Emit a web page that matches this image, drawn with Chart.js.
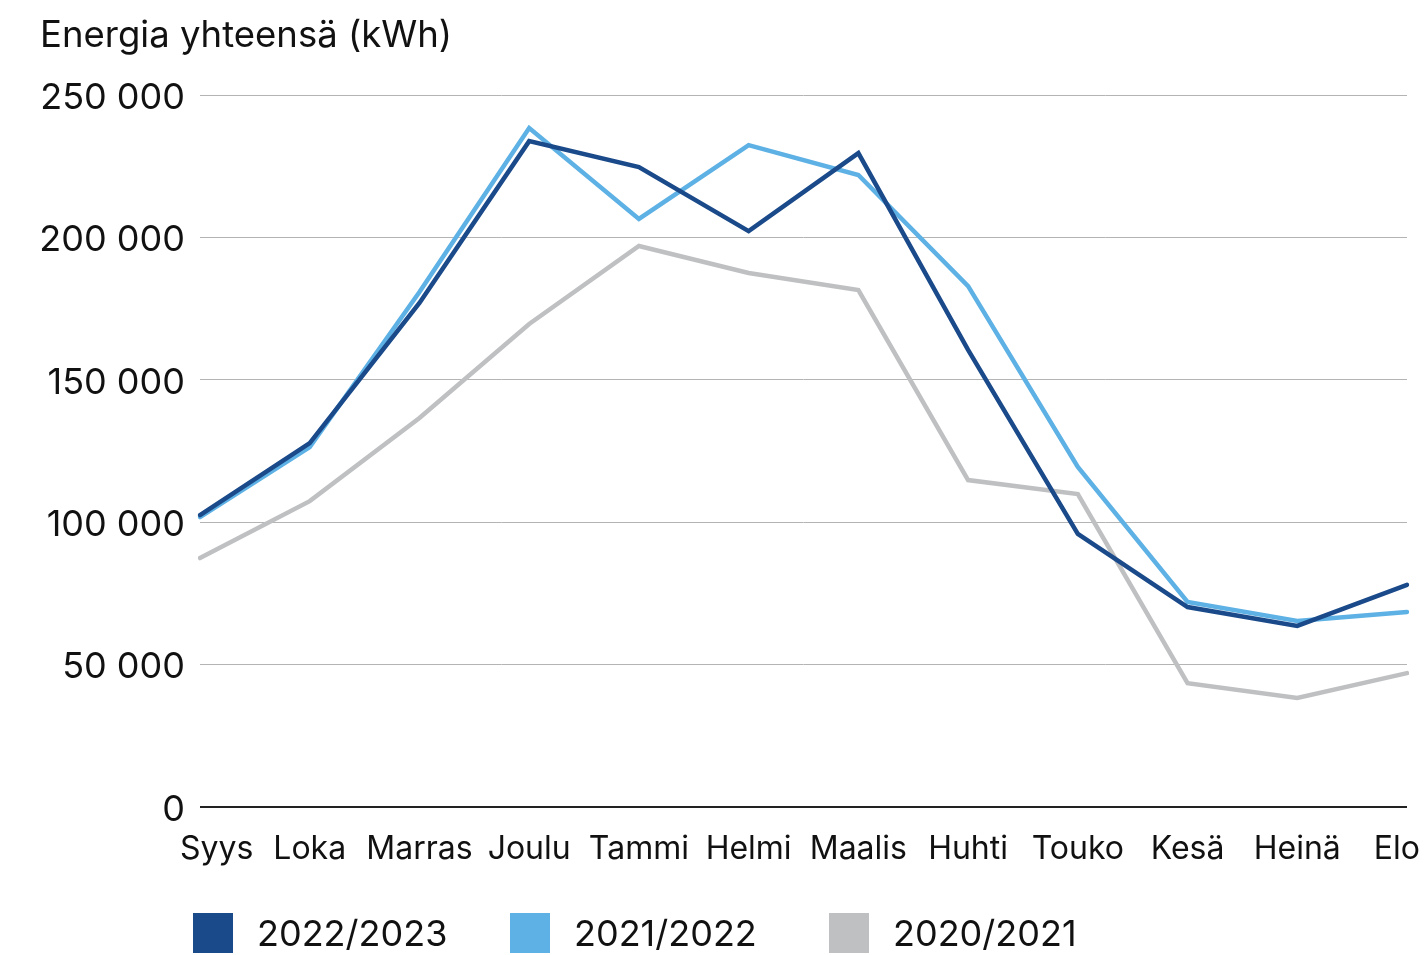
<!DOCTYPE html>
<html>
<head>
<meta charset="utf-8">
<script src="https://cdn.jsdelivr.net/npm/chart.js@4.4.1/dist/chart.umd.min.js"></script>
<style>
  html, body { margin: 0; padding: 0; background: #fff; }
  #wrap { position: relative; width: 1428px; height: 955px; }
  canvas { display: block; }
</style>
</head>
<body>
<div id="wrap"><canvas id="c" width="1428" height="955"></canvas></div>
<script>
const months = ["Syys", "Loka", "Marras", "Joulu", "Tammi", "Helmi", "Maalis", "Huhti", "Touko", "Kesä", "Heinä", "Elo"];
const series2022 = [102500, 127800, 177000, 233800, 224700, 202200, 229600, 160500, 95900, 70200, 63600, 78000];
const series2021 = [101800, 126400, 180800, 238400, 206500, 232400, 221900, 182900, 119400, 72000, 65300, 68500];
const series2020 = [87400, 107400, 136600, 169600, 197000, 187500, 181500, 114800, 109900, 43500, 38300, 47000];
const seriesLabels = ["2022/2023", "2021/2022", "2020/2021"];
const yTitle = "Energia yhteensä (kWh)";

const FONT = "Inter, 'Noto Sans', sans-serif";
const colors = ["#1a4a8a", "#5eb1e4", "#bfc0c2"];

const overlay = {
  id: 'overlay',
  afterDraw(chart) {
    const ctx = chart.ctx;
    ctx.save();
    ctx.fillStyle = '#111';
    ctx.textBaseline = 'middle';
    ctx.textAlign = 'left';
    // title
    ctx.font = `400 36.5px ${FONT}`;
    ctx.fillText(yTitle, 40, 36);
    // legend
    ctx.font = `400 36px ${FONT}`;
    const boxX = [193, 510, 829];
    chart.data.datasets.forEach((ds, i) => {
      ctx.fillStyle = ds.borderColor;
      ctx.fillRect(boxX[i], 913, 40, 40);
      ctx.fillStyle = '#111';
      ctx.fillText(ds.label, boxX[i] + 64, 935);
    });
    // x category labels, kept inside the canvas
    const xs = chart.scales.x;
    ctx.font = `400 32px ${FONT}`;
    ctx.textAlign = 'center';
    chart.data.labels.forEach((lab, i) => {
      const w = ctx.measureText(lab).width;
      let cx = xs.getPixelForTick(i);
      cx = Math.max(cx, 180 + w / 2);
      cx = Math.min(cx, 1420 - w / 2);
      ctx.fillText(lab, cx, 849);
    });
    ctx.restore();
  }
};

new Chart(document.getElementById('c'), {
  type: 'line',
  data: {
    labels: months,
    datasets: [
      { label: seriesLabels[0], data: series2022, borderColor: colors[0], backgroundColor: colors[0] },
      { label: seriesLabels[1], data: series2021, borderColor: colors[1], backgroundColor: colors[1] },
      { label: seriesLabels[2], data: series2020, borderColor: colors[2], backgroundColor: colors[2] }
    ]
  },
  options: {
    responsive: false,
    animation: false,
    devicePixelRatio: 1,
    elements: {
      line: { borderWidth: 4.5, tension: 0, borderCapStyle: 'round', borderJoinStyle: 'miter' },
      point: { radius: 0, hoverRadius: 0 }
    },
    layout: { padding: { left: 0, right: 21, top: 95, bottom: 88 } },
    plugins: {
      legend: { display: false },
      title: { display: false },
      tooltip: { enabled: false }
    },
    scales: {
      x: {
        offset: false,
        grid: { display: false, drawTicks: false },
        border: { display: false },
        ticks: { display: false, autoSkip: false },
        afterFit(scale) { scale.height = 60; scale.paddingLeft = 0; scale.paddingRight = 0; }
      },
      y: {
        min: 0,
        max: 250000,
        border: { display: false },
        grid: {
          drawTicks: false,
          color: (c) => c.tick && c.tick.value === 0 ? '#222' : '#b4b4b4',
          lineWidth: (c) => c.tick && c.tick.value === 0 ? 2 : 1
        },
        ticks: {
          stepSize: 50000,
          color: '#111',
          font: { family: FONT, size: 36 },
          padding: 15,
          labelOffset: 3,
          callback: (v) => String(v).replace(/\B(?=(\d{3})+(?!\d))/g, ' ')
        },
        afterFit(scale) { scale.width = 200; }
      }
    }
  },
  plugins: [overlay]
});
</script>
</body>
</html>
